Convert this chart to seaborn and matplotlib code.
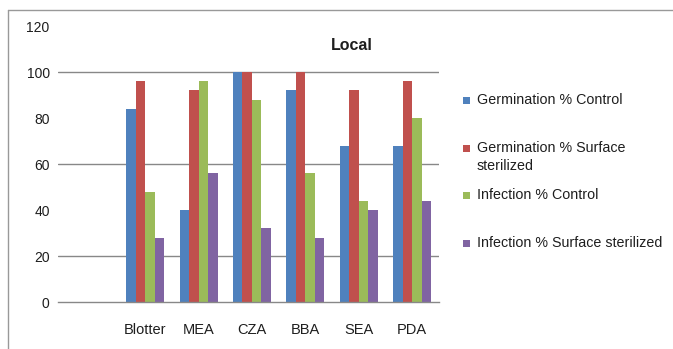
import matplotlib
matplotlib.use("Agg")
import matplotlib.pyplot as plt
import seaborn as sns
import pandas as pd
from matplotlib.patches import Rectangle
from matplotlib.lines import Line2D

categories = ["Blotter", "MEA", "CZA", "BBA", "SEA", "PDA"]
series_names = ["Germination % Control", "Germination % Surface sterilized",
                "Infection % Control", "Infection % Surface sterilized"]
germ_control = [84, 40, 100, 92, 68, 68]
germ_surface = [96, 92, 100, 100, 92, 96]
inf_control = [48, 96, 88, 56, 44, 80]
inf_surface = [28, 56, 32, 28, 40, 44]
colors = ["#4F81BD", "#C0504D", "#9BBB59", "#8064A2"]
yticks = [0, 20, 40, 60, 80, 100, 120]
gridlines = [20, 60, 100]

rows = []
for name, vals in zip(series_names, [germ_control, germ_surface, inf_control, inf_surface]):
    for c, v in zip(categories, vals):
        rows.append({"category": c, "series": name, "value": v})
df = pd.DataFrame(rows)

sns.set_theme(style="white")
plt.rcParams["font.family"] = ["Liberation Sans", "DejaVu Sans"]

W, H = 673, 349
TXT = "#1e1e1e"
fig = plt.figure(figsize=(W / 100, H / 100), dpi=100)
ax = fig.add_axes([58 / W, (H - 302) / H, (439 - 58) / W, 276 / H])

sns.barplot(data=df, x="category", y="value", hue="series", order=categories,
            hue_order=series_names, palette=colors, width=0.71, gap=0,
            saturation=1, ax=ax, legend=False, edgecolor="none", linewidth=0)

ax.set_xlim(-1.63, 5.5)
ax.set_ylim(0, 120)
ax.set_yticks(yticks)
ax.set_yticklabels([str(t) for t in yticks], fontsize=10, color=TXT)
ax.tick_params(axis="y", length=0, pad=6)
ax.set_xticks(range(len(categories)))
ax.set_xticklabels(categories, fontsize=10.5, color=TXT)
ax.tick_params(axis="x", which="major", length=0, pad=15)
ax.set_xticks([0.5, 1.5, 2.5, 3.5, 4.5], minor=True)
ax.tick_params(axis="x", which="minor", length=4, color="#888888", width=1, direction="out")
ax.set_xlabel("")
ax.set_ylabel("")
for g in gridlines:
    ax.axhline(g, color="#888888", linewidth=1, zorder=0)
for s in ["top", "right", "left"]:
    ax.spines[s].set_visible(False)
ax.spines["bottom"].set_color("#888888")
ax.spines["bottom"].set_linewidth(1)
ax.grid(False)

fig.text(352 / W, 1 - 45 / H, "Local", ha="center", va="center",
         fontsize=11.5, fontweight="bold", color=TXT)

# outer chart border (left and top visible)
fig.add_artist(Line2D([8 / W, 8 / W], [1 - 10 / H, 0], transform=fig.transFigure,
                      color="#999999", linewidth=1))
fig.add_artist(Line2D([8 / W, 1], [1 - 10 / H, 1 - 10 / H], transform=fig.transFigure,
                      color="#999999", linewidth=1))

# legend
leg_items = [("Germination % Control", 100), ("Germination % Surface\nsterilized", 148),
             ("Infection % Control", 195), ("Infection % Surface sterilized", 243)]
for (label, y), col in zip(leg_items, colors):
    fig.add_artist(Rectangle((463 / W, 1 - (y + 3.5) / H), 7 / W, 7 / H,
                             transform=fig.transFigure, facecolor=col, edgecolor="none"))
    if "\n" in label:
        fig.text(477 / W, 1 - (y - 7) / H, label, ha="left", va="top",
                 fontsize=10.3, color=TXT, linespacing=1.4)
    else:
        fig.text(477 / W, 1 - y / H, label, ha="left", va="center",
                 fontsize=10.3, color=TXT)

fig.savefig("out.png", dpi=100, facecolor="white")
